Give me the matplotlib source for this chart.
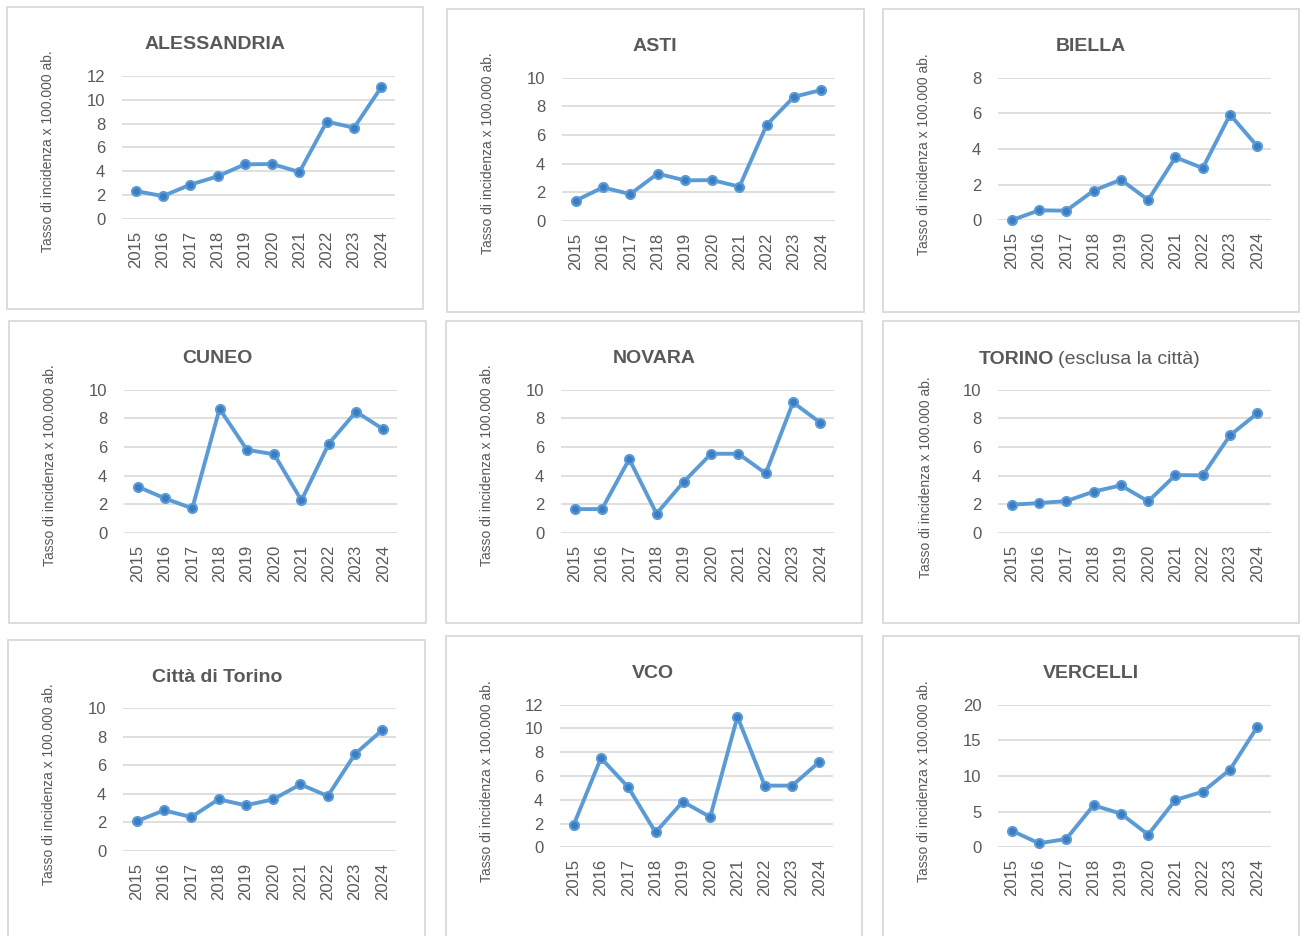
import matplotlib
matplotlib.use("Agg")
import matplotlib.pyplot as plt
from matplotlib.patches import Rectangle
from matplotlib.ticker import MultipleLocator

plt.rcParams['font.family'] = ['Liberation Sans', 'DejaVu Sans']

years = ['2015', '2016', '2017', '2018', '2019', '2020', '2021', '2022', '2023', '2024']

alessandria = [2.33, 1.9, 2.86, 3.56, 4.57, 4.6, 3.92, 8.16, 7.65, 11.07]
asti = [1.4, 2.33, 1.86, 3.29, 2.82, 2.84, 2.38, 6.71, 8.67, 9.14]
biella = [0.0, 0.56, 0.54, 1.66, 2.28, 1.14, 3.53, 2.93, 5.93, 4.15]
cuneo = [3.22, 2.4, 1.7, 8.67, 5.8, 5.48, 2.26, 6.22, 8.46, 7.23]
novara = [1.65, 1.65, 5.15, 1.33, 3.57, 5.52, 5.52, 4.15, 9.11, 7.69]
torino = [1.96, 2.07, 2.21, 2.87, 3.31, 2.19, 4.03, 4.01, 6.81, 8.35]
citta_torino = [2.08, 2.85, 2.38, 3.62, 3.2, 3.62, 4.67, 3.85, 6.8, 8.48]
vco = [1.88, 7.51, 5.05, 1.26, 3.84, 2.55, 10.99, 5.19, 5.19, 7.18]
vercelli = [2.34, 0.56, 1.17, 5.89, 4.72, 1.78, 6.64, 7.8, 10.89, 16.9]

titles = ['ALESSANDRIA', 'ASTI', 'BIELLA', 'CUNEO', 'NOVARA', 'TORINO',
          'Città di Torino', 'VCO', 'VERCELLI']
series = [alessandria, asti, biella, cuneo, novara, torino, citta_torino, vco, vercelli]
ymax = [12, 10, 8, 10, 10, 10, 10, 12, 20]
ystep = [2, 2, 2, 2, 2, 2, 2, 2, 5]
ylabel = 'Tasso di incidenza x 100.000 ab.'

W, H = 1303, 936
fig = plt.figure(figsize=(W / 100, H / 100), dpi=100)

# layout in pixels
boxes = [(7, 7, 423, 309), (447, 9, 864, 312), (883, 9, 1299, 312),
         (9, 321, 426, 623), (446, 321, 862, 623), (883, 321, 1299, 623),
         (8, 640, 425, 945), (446, 636, 862, 945), (883, 636, 1299, 945)]
axpos = [(122, 76, 395, 218.7), (562, 77.7, 835, 220.7), (998, 77.7, 1271, 220.3),
         (124, 389.7, 397, 532.7), (561, 389.7, 834, 532.7), (998, 389.7, 1271, 532.7),
         (123, 708.3, 396, 851), (560, 704.7, 833, 847.3), (998, 704.7, 1271, 847.3)]
title_pos = [(215, 49), (655, 51), (1091, 51), (217, 363), (654, 363), (1091, 364),
             (217, 682), (653, 678), (1091, 678)]
ylab_pos = [(48, 151), (488, 153), (924, 154), (50, 465), (487, 465), (926, 477),
            (49, 784), (487, 781), (924, 781)]

txt_col = '#595959'
line_col = '#5B9BD5'
grid_col = '#D9D9D9'

def fx(x):
    return x / W

def fy(y):
    return 1 - y / H

for i in range(9):
    bx0, by0, bx1, by1 = boxes[i]
    fig.patches.append(Rectangle((fx(bx0), fy(by1)), fx(bx1) - fx(bx0), fy(by0) - fy(by1),
                                 transform=fig.transFigure, fill=False,
                                 edgecolor=grid_col, linewidth=1.3, zorder=0))
    x0, y0, x1, y1 = axpos[i]
    ax = fig.add_axes([fx(x0), fy(y1), fx(x1) - fx(x0), fy(y0) - fy(y1)])
    xs = list(range(len(years)))
    ax.plot(xs, series[i], color=line_col, linewidth=2.8, marker='o', markersize=6.5,
            markerfacecolor='#3A7DC4', markeredgecolor='#5B9BD5', markeredgewidth=1.5,
            zorder=3, clip_on=False)
    ax.set_xlim(-0.5, len(years) - 0.5)
    ax.set_ylim(0, ymax[i])
    ax.yaxis.set_major_locator(MultipleLocator(ystep[i]))
    ax.set_xticks(xs)
    ax.set_xticklabels(years, rotation=90)
    ax.grid(axis='y', color=grid_col, linewidth=1.2)
    ax.set_axisbelow(True)
    for s in ax.spines.values():
        s.set_visible(False)
    ax.tick_params(axis='both', length=0, labelsize=12, colors=txt_col)
    ax.tick_params(axis='y', pad=12)
    ax.tick_params(axis='x', pad=8.5)
    ax.patch.set_alpha(0)

    tx, ty = title_pos[i]
    if titles[i] == 'TORINO':
        fig.text(fx(1054), fy(ty), 'TORINO', ha='right', va='baseline',
                 fontsize=14, fontweight='bold', color=txt_col)
        fig.text(fx(1058), fy(ty), '(esclusa la città)', ha='left', va='baseline',
                 fontsize=14, color=txt_col)
    else:
        fig.text(fx(tx), fy(ty), titles[i], ha='center', va='baseline',
                 fontsize=14, fontweight='bold', color=txt_col)
    lx, ly = ylab_pos[i]
    fig.text(fx(lx), fy(ly), ylabel, rotation=90, ha='center', va='center',
             fontsize=10, color=txt_col)

fig.savefig('out.png', dpi=100, facecolor='white')
